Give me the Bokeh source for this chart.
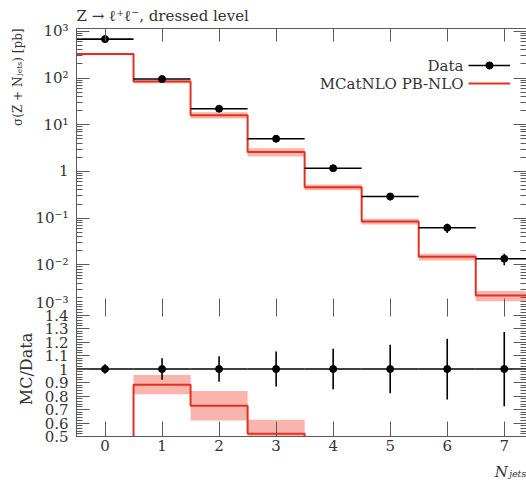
from bokeh.plotting import figure
from bokeh.layouts import column
from bokeh.models import (ColumnDataSource, FixedTicker, LinearAxis, LogAxis, Range1d,
                          Label, Legend, LegendItem, Title)
from bokeh.core.properties import value
from bokeh.embed import file_html
from bokeh.resources import INLINE

# ---------------- data ----------------
njets = [0, 1, 2, 3, 4, 5, 6, 7]
x_tick_labels = ["0", "1", "2", "3", "4", "5", "6", "7"]
data_xsec = [680.0, 95.0, 22.0, 5.0, 1.17, 0.29, 0.062, 0.0135]
data_rel_err = [0.035, 0.08, 0.095, 0.13, 0.15, 0.18, 0.225, 0.275]
mc_xsec = [325.0, 84.0, 16.0, 2.6, 0.46, 0.085, 0.0148, 0.0022]
mc_rel_err = [0.05, 0.08, 0.15, 0.20, 0.14, 0.14, 0.16, 0.25]

main_ticks = [1e-3, 1e-2, 1e-1, 1.0, 10.0, 100.0, 1000.0]
main_tick_labels = ["10⁻³", "10⁻²", "10⁻¹", "1", "10¹", "10²", "10³"]
ratio_ticks = [0.5, 0.6, 0.7, 0.8, 0.9, 1.0, 1.1, 1.2, 1.3, 1.4]
ratio_tick_labels = ["0.5", "0.6", "0.7", "0.8", "0.9", "1", "1.1", "1.2", "1.3", "1.4"]

title_text = "Z → ℓ⁺ℓ⁻, dressed level"
ylabel_main = "σ(Z + Nⱼₑₜₛ) [pb]"
ylabel_ratio = "MC/Data"
xlabel_text = "Nⱼₑₜₛ"
legend_labels = ["Data", "MCatNLO PB-NLO"]

# ---------------- styling ----------------
FONT = "DejaVu Serif"
TXT = "#333333"
AXC = "#5a5a5a"
RED = "#e4301f"
BAND = "#f8b4ad"
XMAX = 7.39

# ---------------- derived columns ----------------
lo = [n - 0.5 for n in njets]
hi = [n + 0.5 for n in njets]
edges = lo + [hi[-1]]
d_lo = [d * (1 - e) for d, e in zip(data_xsec, data_rel_err)]
d_hi = [d * (1 + e) for d, e in zip(data_xsec, data_rel_err)]
m_lo = [m * (1 - e) for m, e in zip(mc_xsec, mc_rel_err)]
m_hi = [m * (1 + e) for m, e in zip(mc_xsec, mc_rel_err)]
ratio = [m / d for m, d in zip(mc_xsec, data_xsec)]
r_lo = [r * (1 - e) for r, e in zip(ratio, mc_rel_err)]
r_hi = [r * (1 + e) for r, e in zip(ratio, mc_rel_err)]
one = [1.0 for _ in njets]
rd_lo = [1 - e for e in data_rel_err]
rd_hi = [1 + e for e in data_rel_err]

src = ColumnDataSource(dict(x=njets, lo=lo, hi=hi, d=data_xsec, d_lo=d_lo, d_hi=d_hi,
                            m_lo=m_lo, m_hi=m_hi, r_lo=r_lo, r_hi=r_hi,
                            one=one, rd_lo=rd_lo, rd_hi=rd_hi))

xr = Range1d(-0.5, XMAX)


def style_axis(ax, tick_in, labels=True, size="15px"):
    ax.axis_line_color = AXC
    ax.major_tick_line_color = AXC
    ax.minor_tick_line_color = AXC
    ax.major_tick_in = tick_in
    ax.major_tick_out = 0
    ax.minor_tick_in = 6
    ax.minor_tick_out = 0
    ax.major_label_text_font = FONT
    ax.major_label_text_color = TXT
    ax.axis_label_standoff = 0
    if labels:
        ax.major_label_text_font_size = size
    else:
        ax.major_label_text_font_size = "1px"
        ax.major_label_text_alpha = 0
        ax.major_label_standoff = 0


def make_title(text, align, size, standoff, style="normal"):
    return Title(text=text, align=align, text_font=FONT, text_font_size=size,
                 text_font_style=style, text_color=TXT, standoff=standoff, offset=0)


x_ticker = FixedTicker(ticks=njets, minor_ticks=[])
log_minor = [k * 10.0 ** e for e in range(-3, 3) for k in range(2, 10)]
main_ticker = FixedTicker(ticks=main_ticks, minor_ticks=log_minor)
ratio_minor = [round(0.5 + 0.02 * i, 2) for i in range(51)]
ratio_ticker = FixedTicker(ticks=ratio_ticks, minor_ticks=ratio_minor)

# ---------------- main panel ----------------
# the bottom border only holds the overhang of the lowest tick label; the
# ratio panel is pulled up over it (negative margin) so the frames touch.
p = figure(width=526, height=311, x_range=xr, y_range=Range1d(1e-3, 10 ** 3.06),
           y_axis_type="log", output_backend="svg", toolbar_location=None,
           min_border_left=76, min_border_right=0, min_border_top=28, min_border_bottom=0)
p.margin = (0, 0, -10, 0)
p.grid.visible = False
p.outline_line_color = None
p.background_fill_color = "white"

p.xaxis[0].ticker = x_ticker
style_axis(p.xaxis[0], 13, labels=False)
p.yaxis[0].ticker = main_ticker
p.yaxis[0].major_label_overrides = dict(zip(main_ticks, main_tick_labels))
style_axis(p.yaxis[0], 13, labels=True, size="15px")
p.yaxis[0].major_label_standoff = 8

top_ax = LinearAxis(ticker=x_ticker)
style_axis(top_ax, 13, labels=False)
p.add_layout(top_ax, "above")
right_ax = LogAxis(ticker=main_ticker)
style_axis(right_ax, 13, labels=False)
p.add_layout(right_ax, "right")

p.add_layout(make_title(title_text, "left", "15px", 8), "above")
p.add_layout(make_title(ylabel_main, "right", "12px", 15), "left")

p.quad(left="lo", right="hi", bottom="m_lo", top="m_hi", source=src,
       fill_color=BAND, line_color=None)
mc_line = p.step(x=edges, y=mc_xsec + [mc_xsec[-1]], mode="after",
                 line_color=RED, line_width=2)
data_h = p.segment(x0="lo", y0="d", x1="hi", y1="d", source=src,
                   line_color="black", line_width=1.6)
p.segment(x0="x", y0="d_lo", x1="x", y1="d_hi", source=src,
          line_color="black", line_width=1.6)
data_pts = p.scatter(x="x", y="d", source=src, size=7, color="black")

legend = Legend(items=[LegendItem(label=value(" "), renderers=[data_h, data_pts]),
                       LegendItem(label=value(" "), renderers=[mc_line])],
                location=(392, 219), glyph_width=42, glyph_height=18,
                label_width=1, label_height=1, label_standoff=0,
                label_text_font_size="1px", label_text_alpha=0,
                padding=0, margin=0, spacing=0,
                border_line_color=None, background_fill_alpha=0)
p.add_layout(legend)

for txt, yy in zip(legend_labels, [246, 228]):
    p.add_layout(Label(x=387, y=yy, x_units="screen", y_units="screen", text=txt,
                       text_align="right", text_baseline="middle",
                       text_font=FONT, text_font_size="15px", text_color=TXT))

# ---------------- ratio panel ----------------
r = figure(width=526, height=186, x_range=xr, y_range=Range1d(0.5, 1.5),
           output_backend="svg", toolbar_location=None,
           min_border_left=76, min_border_right=0, min_border_top=0, min_border_bottom=48)
r.grid.visible = False
r.outline_line_color = None
r.background_fill_color = None
r.border_fill_color = None

r.xaxis[0].ticker = x_ticker
r.xaxis[0].major_label_overrides = dict(zip(njets, x_tick_labels))
style_axis(r.xaxis[0], 15, labels=True, size="15px")
r.xaxis[0].major_label_standoff = 3
r.yaxis[0].ticker = ratio_ticker
r.yaxis[0].major_label_overrides = dict(zip(ratio_ticks, ratio_tick_labels))
style_axis(r.yaxis[0], 13, labels=True, size="15px")
r.yaxis[0].major_label_standoff = 8
r.yaxis[0].axis_label = ylabel_ratio
r.yaxis[0].axis_label_text_font = FONT
r.yaxis[0].axis_label_text_font_style = "normal"
r.yaxis[0].axis_label_text_font_size = "16px"
r.yaxis[0].axis_label_text_color = TXT
r.yaxis[0].axis_label_standoff = 6

rtop = LinearAxis(ticker=x_ticker)
style_axis(rtop, 15, labels=False)
rtop.axis_line_color = None
r.add_layout(rtop, "above")
rright = LinearAxis(ticker=ratio_ticker)
style_axis(rright, 13, labels=False)
r.add_layout(rright, "right")

r.add_layout(make_title(xlabel_text, "right", "15px", 14, style="italic"), "below")

r.quad(left="lo", right="hi", bottom="r_lo", top="r_hi", source=src,
       fill_color=BAND, line_color=None)
r.step(x=edges, y=ratio + [ratio[-1]], mode="after", line_color=RED, line_width=2)
r.segment(x0="lo", y0="one", x1="hi", y1="one", source=src, line_color="black", line_width=1.6)
r.segment(x0="x", y0="rd_lo", x1="x", y1="rd_hi", source=src, line_color="black", line_width=1.6)
r.scatter(x="x", y="one", source=src, size=7, color="black")

layout = column(p, r, spacing=0)
open("out.html", "w").write(file_html(layout, INLINE))
